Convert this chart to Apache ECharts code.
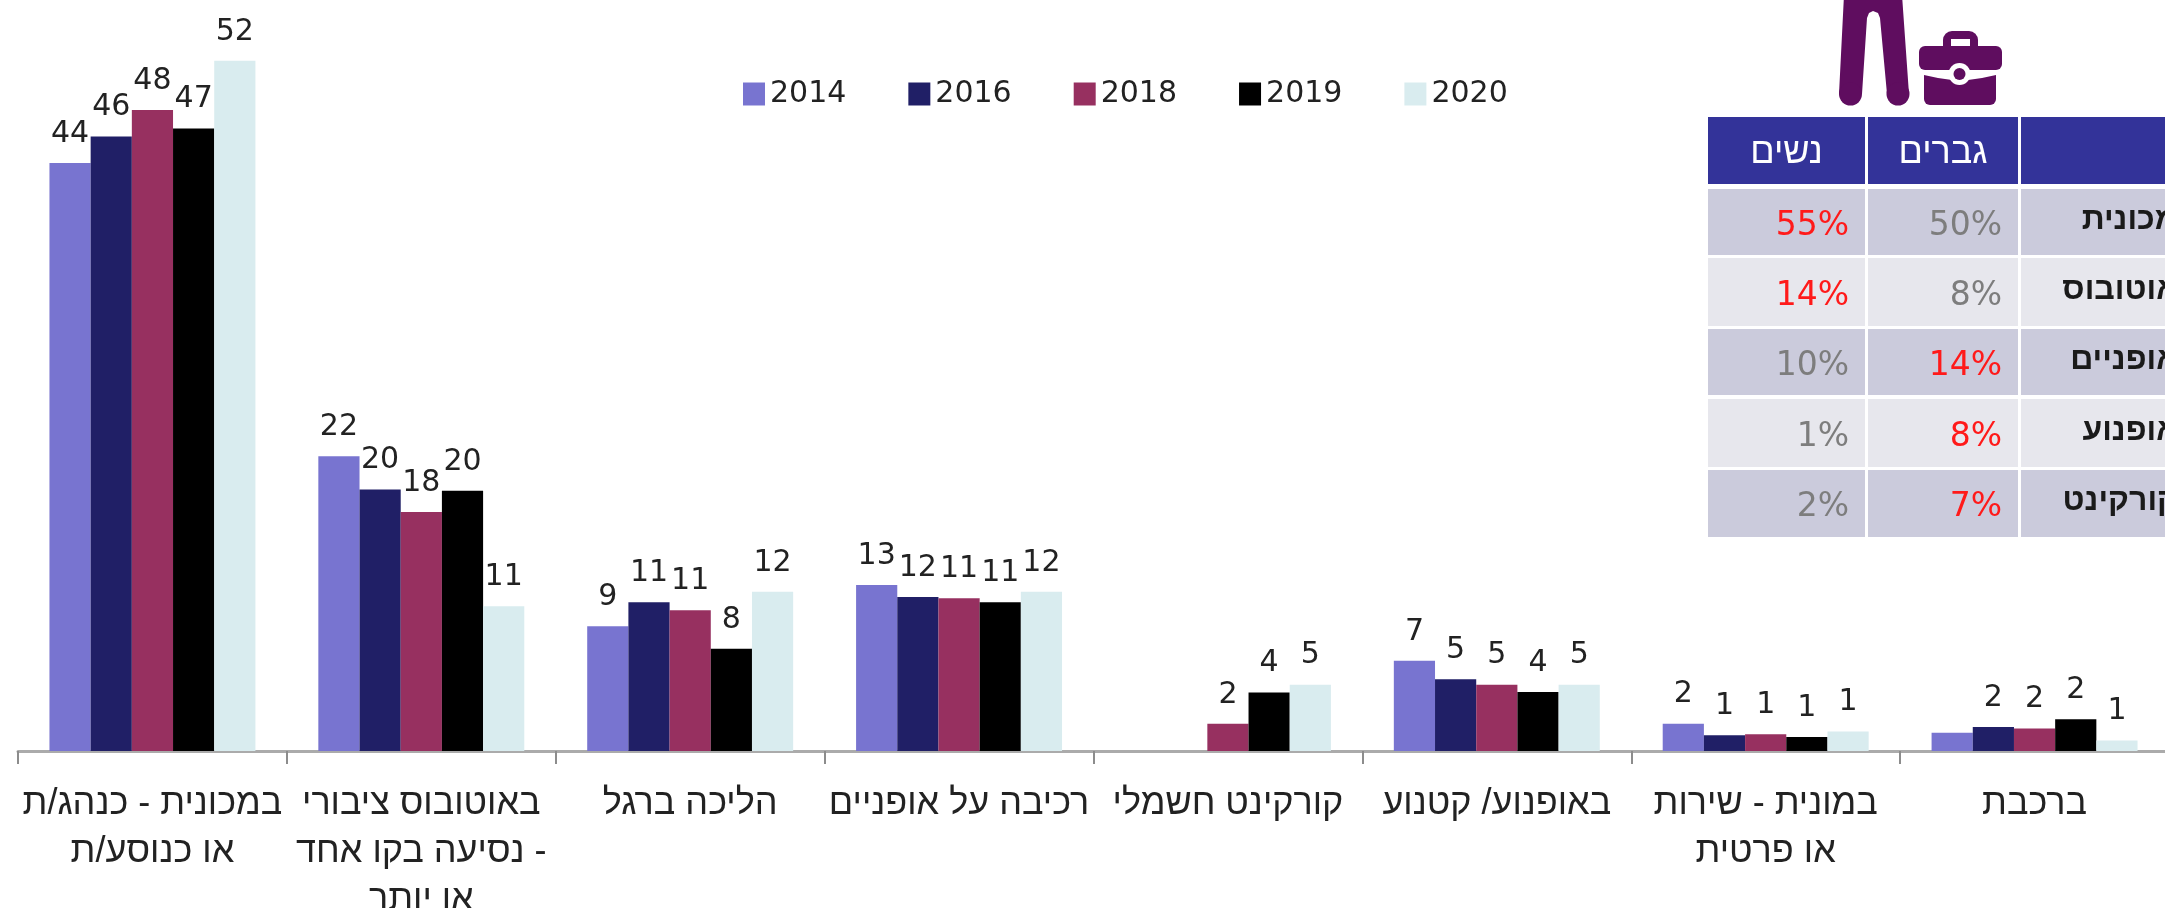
<!DOCTYPE html>
<html lang="he">
<head>
<meta charset="utf-8">
<style>html,body{margin:0;padding:0;background:#fff;overflow:hidden}#c{width:2165px;height:908px}</style>
<script src="https://cdn.jsdelivr.net/npm/echarts@6/dist/echarts.min.js"></script>
</head>
<body>
<div id="c" dir="rtl"></div>
<script>
const categories = ['במכונית - כנהג/ת\nאו כנוסע/ת','באוטובוס ציבורי\n- נסיעה בקו אחד\nאו יותר','הליכה ברגל','רכיבה על אופניים','קורקינט חשמלי','באופנוע/ קטנוע','במונית - שירות\nאו פרטית','ברכבת'];
const years = ['2014','2016','2018','2019','2020'];
const colors = ['#7874d0','#201f66','#973060','#000000','#d9ecef'];
const v2014 = [44.3,22.2,9.4,12.5,null,6.8,2.06,1.38];
const v2016 = [46.3,19.7,11.2,11.6,null,5.4,1.18,1.8];
const v2018 = [48.3,18,10.6,11.5,2.05,5,1.26,1.69];
const v2019 = [46.9,19.6,7.7,11.2,4.4,4.45,1.06,2.4];
const v2020 = [52,10.9,12,12,5,5,1.46,0.8];
const l2014 = [44,22,9,13,null,7,2,null];
const l2016 = [46,20,11,12,null,5,1,2];
const l2018 = [48,18,11,11,2,5,1,2];
const l2019 = [47,20,8,11,4,4,1,2];
const l2020 = [52,11,12,12,5,5,1,1];
const values = [v2014,v2016,v2018,v2019,v2020];
const labels = [l2014,l2016,l2018,l2019,l2020];

const tableHead = ['נשים','גברים',''];
const tableRowNames = ['מכונית','אוטובוס','אופניים','אופנוע','קורקינט'];
const women = ['55%','14%','10%','1%','2%'];
const men = ['50%','8%','14%','8%','7%'];
const womenRed = [true,true,false,false,false];
const menRed = [false,false,true,true,true];

const FONT = '"DejaVu Sans","Liberation Sans",sans-serif';
const HEB = '"Liberation Sans","DejaVu Sans",sans-serif';
const RED='#ff1a1a', GREY='#7d7d7d', PURPLE='#5f0d5f';
const colX = [[1708,157],[1868,150],[2021,160]];
const rowY = [[189,66],[258,68],[329,66],[399,68],[470,67]];
const rowFill = ['#cbcbdc','#e7e7ed','#cbcbdc','#e7e7ed','#cbcbdc'];
const g = [];
colX.forEach((c,i)=>{
  g.push({type:'rect',shape:{x:c[0],y:117,width:c[1],height:67},style:{fill:'#333399'}});
  if(tableHead[i]) g.push({type:'text',x:c[0]+c[1]/2,y:153,style:{text:tableHead[i],fill:'#fff',font:'36px '+HEB,align:'center',verticalAlign:'middle'}});
  rowY.forEach((r,j)=>g.push({type:'rect',shape:{x:c[0],y:r[0],width:c[1],height:r[1]},style:{fill:rowFill[j]}}));
});
rowY.forEach((r,j)=>{
  const cy=r[0]+r[1]/2+1;
  g.push({type:'text',x:1849,y:cy+3,style:{text:women[j],fill:womenRed[j]?RED:GREY,font:'33px '+FONT,align:'right',verticalAlign:'middle'}});
  g.push({type:'text',x:2002,y:cy+3,style:{text:men[j],fill:menRed[j]?RED:GREY,font:'33px '+FONT,align:'right',verticalAlign:'middle'}});
  g.push({type:'text',x:2178,y:cy-3,style:{text:tableRowNames[j],fill:'#1a1a1a',font:'bold 32px '+HEB,align:'right',verticalAlign:'middle'}});
});
// legs
g.push({type:'polygon',shape:{points:[[1844,-5],[1839,94],[1862,94],[1867,18],[1869,13],[1873,11],[1878,13],[1880,18],[1887,94],[1909,94],[1902,-5]]},style:{fill:PURPLE}});
g.push({type:'circle',shape:{cx:1850.5,cy:94,r:11.5},style:{fill:PURPLE}});
g.push({type:'circle',shape:{cx:1898,cy:94,r:11.5},style:{fill:PURPLE}});
// briefcase
g.push({type:'rect',shape:{x:1943,y:31,width:35,height:24,r:9},style:{fill:PURPLE}});
g.push({type:'rect',shape:{x:1951,y:39,width:19,height:8},style:{fill:'#fff'}});
g.push({type:'rect',shape:{x:1919,y:46,width:83,height:24,r:6},style:{fill:PURPLE}});
g.push({type:'polygon',shape:{points:[[1924,75],[1938,78],[1952,80],[1968,80],[1982,78],[1996,75],[1996,90],[1924,90]]},style:{fill:PURPLE}});
g.push({type:'rect',shape:{x:1924,y:84,width:72,height:21,r:6},style:{fill:PURPLE}});
g.push({type:'circle',shape:{cx:1959.5,cy:74,r:11},style:{fill:'#fff'}});
g.push({type:'circle',shape:{cx:1959.5,cy:74,r:6},style:{fill:PURPLE}});

const chart = echarts.init(document.getElementById('c'),null,{renderer:'canvas'});
chart.setOption({
  animation:false,
  backgroundColor:'#fff',
  textStyle:{fontFamily:FONT},
  legend:{
    left:738,top:74,itemWidth:22,itemHeight:23,itemGap:62,
    icon:'rect',data:years,
    textStyle:{fontSize:30,color:'#222',fontFamily:FONT}
  },
  grid:{left:18,top:9,width:2151,height:742,containLabel:false,outerBoundsMode:'none'},
  xAxis:{
    type:'category',data:categories,
    axisLine:{lineStyle:{color:'#ababab',width:3}},
    axisTick:{show:true,length:13,alignWithLabel:false,lineStyle:{color:'#8c8c8c',width:2}},
    axisLabel:{interval:0,margin:29,fontSize:36,lineHeight:48,color:'#222',fontFamily:HEB,overflow:'none',hideOverlap:false}
  },
  yAxis:{type:'value',min:0,max:55.9,show:false},
  series:years.map((y,i)=>({
    name:y,type:'bar',barGap:'0%',barCategoryGap:'23.4%',
    itemStyle:{color:colors[i]},
    data:values[i],
    label:{
      show:true,position:'top',distance:14,fontSize:30,color:'#222',fontFamily:FONT,
      formatter:p=>{const t=labels[i][p.dataIndex];return t==null?'':String(t);}
    }
  })),
  graphic:{elements:g}
});
</script>
</body>
</html>
